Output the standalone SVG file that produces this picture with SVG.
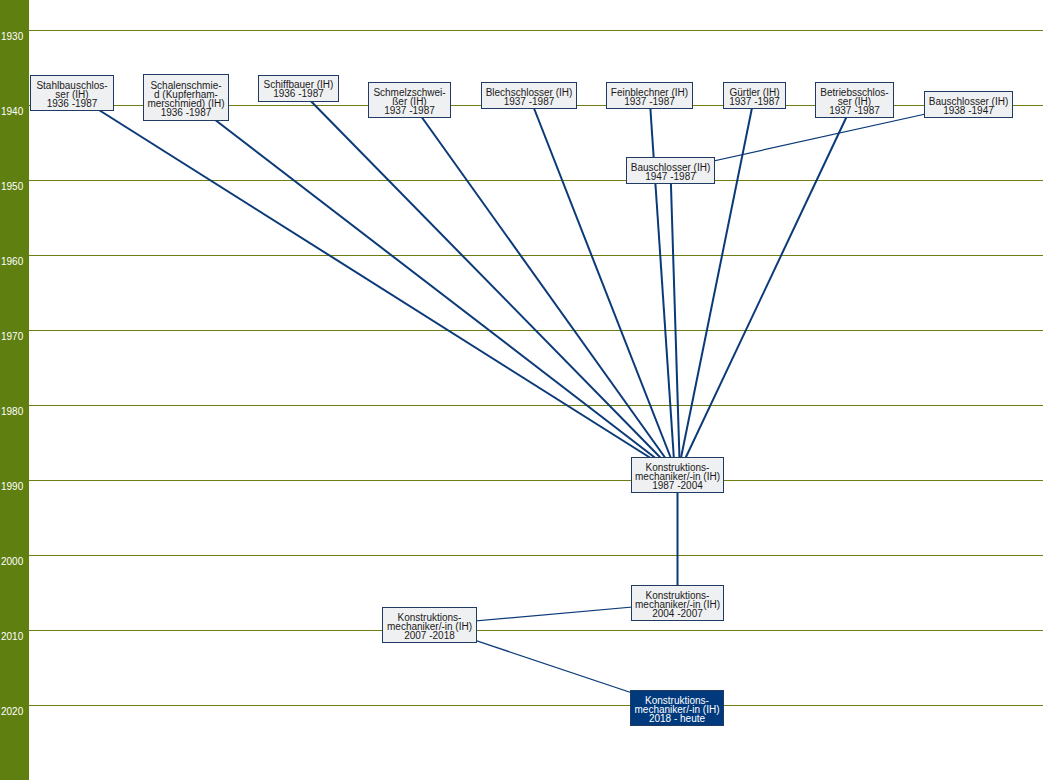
<svg xmlns="http://www.w3.org/2000/svg" width="1043" height="780" viewBox="0 0 1043 780">
<style>
.grid{stroke:#6f7d12;stroke-width:1}
.yr{font-family:"Liberation Sans",Arial,sans-serif;font-size:10px;fill:#ffffff}
.box{fill:#eff0f2;stroke:#1f3b64;stroke-width:1}
.boxh{fill:#003a7d;stroke:#1f3b64;stroke-width:1}
.t{font-family:"Liberation Sans",Arial,sans-serif;font-size:10px;fill:#1a1a1a;text-anchor:middle}
.th{font-family:"Liberation Sans",Arial,sans-serif;font-size:10px;fill:#ffffff;text-anchor:middle}
.c{stroke:#0b3a78;stroke-width:2;fill:none}
.cs{stroke:#0b3a78;stroke-width:1.2;fill:none}
</style>
<rect x="0" y="0" width="1043" height="780" fill="#ffffff"/>
<rect x="0" y="0" width="29" height="780" fill="#5f7f10"/>
<g id="grid">
<line class="grid" x1="29" y1="30.5" x2="1043" y2="30.5"/>
<line class="grid" x1="29" y1="105.5" x2="1043" y2="105.5"/>
<line class="grid" x1="29" y1="180.5" x2="1043" y2="180.5"/>
<line class="grid" x1="29" y1="255.5" x2="1043" y2="255.5"/>
<line class="grid" x1="29" y1="330.5" x2="1043" y2="330.5"/>
<line class="grid" x1="29" y1="405.5" x2="1043" y2="405.5"/>
<line class="grid" x1="29" y1="480.5" x2="1043" y2="480.5"/>
<line class="grid" x1="29" y1="555.5" x2="1043" y2="555.5"/>
<line class="grid" x1="29" y1="630.5" x2="1043" y2="630.5"/>
<line class="grid" x1="29" y1="705.5" x2="1043" y2="705.5"/>
<text class="yr" x="1" y="40">1930</text>
<text class="yr" x="1" y="115">1940</text>
<text class="yr" x="1" y="190">1950</text>
<text class="yr" x="1" y="265">1960</text>
<text class="yr" x="1" y="340">1970</text>
<text class="yr" x="1" y="415">1980</text>
<text class="yr" x="1" y="490">1990</text>
<text class="yr" x="1" y="565">2000</text>
<text class="yr" x="1" y="640">2010</text>
<text class="yr" x="1" y="715">2020</text>
</g>
<g id="connectors">
<line class="c" x1="72" y1="93" x2="677.5" y2="475"/>
<line class="c" x1="186" y1="97.5" x2="677.5" y2="475"/>
<line class="c" x1="298.5" y1="88.5" x2="677.5" y2="475"/>
<line class="c" x1="409.5" y1="100" x2="677.5" y2="475"/>
<line class="c" x1="529" y1="95.5" x2="677.5" y2="475"/>
<line class="c" x1="649.5" y1="95.5" x2="675" y2="475"/>
<line class="c" x1="754.5" y1="95.5" x2="677.5" y2="475"/>
<line class="c" x1="854.5" y1="100" x2="677.5" y2="475"/>
<line class="cs" x1="968.5" y1="104.5" x2="670.5" y2="170.5"/>
<line class="c" x1="670.5" y1="170.5" x2="680" y2="475"/>
<line class="c" x1="677.5" y1="475" x2="677.5" y2="603"/>
<line class="cs" x1="677.5" y1="603" x2="429.5" y2="625"/>
<line class="cs" x1="429.5" y1="625" x2="677" y2="708"/>
</g>
<g id="n1"><rect class="box" x="30.5" y="75.5" width="83" height="35"/>
<text class="t" x="72" y="89">Stahlbauschlos-</text><text class="t" x="72" y="98">ser (IH)</text><text class="t" x="72" y="107">1936 -1987</text></g>
<g id="n2"><rect class="box" x="143.5" y="74.5" width="85" height="46"/>
<text class="t" x="186" y="89">Schalenschmie-</text><text class="t" x="186" y="98">d (Kupferham-</text><text class="t" x="186" y="107">merschmied) (IH)</text><text class="t" x="186" y="116">1936 -1987</text></g>
<g id="n3"><rect class="box" x="258.5" y="75.5" width="80" height="26"/>
<text class="t" x="298.5" y="88">Schiffbauer (IH)</text><text class="t" x="298.5" y="97">1936 -1987</text></g>
<g id="n4"><rect class="box" x="368.5" y="82.5" width="82" height="35"/>
<text class="t" x="409.5" y="96">Schmelzschwei-</text><text class="t" x="409.5" y="105">ßer (IH)</text><text class="t" x="409.5" y="114">1937 -1987</text></g>
<g id="n5"><rect class="box" x="481.5" y="82.5" width="95" height="26"/>
<text class="t" x="529" y="96">Blechschlosser (IH)</text><text class="t" x="529" y="105">1937 -1987</text></g>
<g id="n6"><rect class="box" x="606.5" y="82.5" width="86" height="26"/>
<text class="t" x="649.5" y="96">Feinblechner (IH)</text><text class="t" x="649.5" y="105">1937 -1987</text></g>
<g id="n7"><rect class="box" x="723.5" y="82.5" width="62" height="26"/>
<text class="t" x="754.5" y="96">Gürtler (IH)</text><text class="t" x="754.5" y="105">1937 -1987</text></g>
<g id="n8"><rect class="box" x="815.5" y="82.5" width="78" height="35"/>
<text class="t" x="854.5" y="96">Betriebsschlos-</text><text class="t" x="854.5" y="105">ser (IH)</text><text class="t" x="854.5" y="114">1937 -1987</text></g>
<g id="n9"><rect class="box" x="924.5" y="91.5" width="88" height="26"/>
<text class="t" x="968.5" y="105">Bauschlosser (IH)</text><text class="t" x="968.5" y="114">1938 -1947</text></g>
<g id="n10"><rect class="box" x="626.5" y="157.5" width="88" height="26"/>
<text class="t" x="670.5" y="171">Bauschlosser (IH)</text><text class="t" x="670.5" y="180">1947 -1987</text></g>
<g id="n11"><rect class="box" x="631.5" y="457.5" width="92" height="35"/>
<text class="t" x="677.5" y="471">Konstruktions-</text><text class="t" x="677.5" y="480">mechaniker/-in (IH)</text><text class="t" x="677.5" y="489">1987 -2004</text></g>
<g id="n12"><rect class="box" x="631.5" y="585.5" width="92" height="35"/>
<text class="t" x="677.5" y="599">Konstruktions-</text><text class="t" x="677.5" y="608">mechaniker/-in (IH)</text><text class="t" x="677.5" y="617">2004 -2007</text></g>
<g id="n13"><rect class="box" x="382.5" y="607.5" width="94" height="35"/>
<text class="t" x="429.5" y="621">Konstruktions-</text><text class="t" x="429.5" y="630">mechaniker/-in (IH)</text><text class="t" x="429.5" y="639">2007 -2018</text></g>
<g id="n14"><rect class="boxh" x="630.5" y="690.5" width="93" height="35"/>
<text class="th" x="677" y="704">Konstruktions-</text><text class="th" x="677" y="713">mechaniker/-in (IH)</text><text class="th" x="677" y="722">2018 - heute</text></g>
</svg>
